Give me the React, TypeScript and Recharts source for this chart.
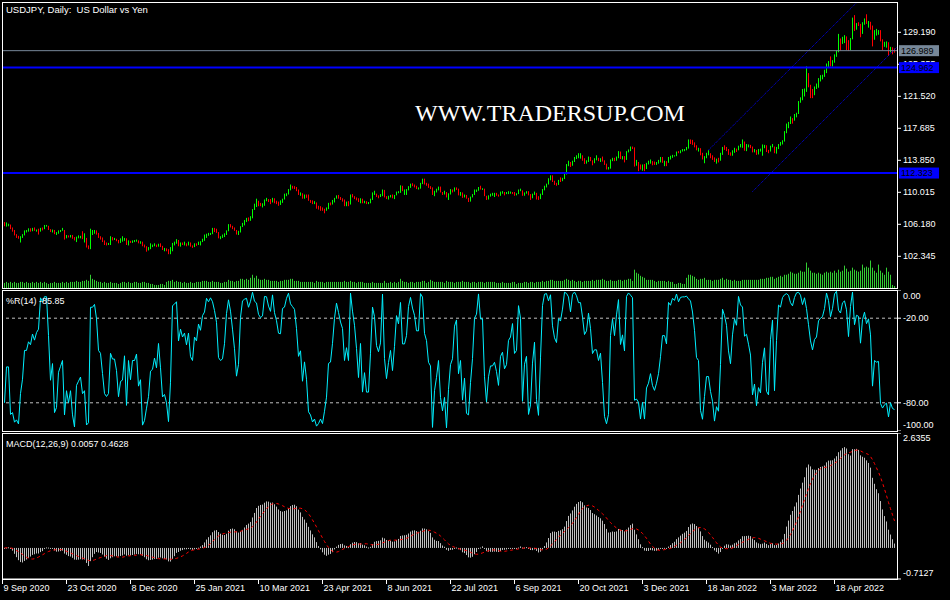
import { ComposedChart, Bar, Line, XAxis, YAxis, ReferenceLine } from "recharts";

// USDJPY daily, 9 Sep 2020 .. 27 May 2022 (446 bars). Open = previous close.
const firstOpen = 106.2;

const closes = [
  106.05, 106.15, 106.15,
  105.7, 105.45, 104.95, 104.7, 104.55,
  104.65, 104.9, 105.4, 105.4, 105.55,
  105.5, 105.65, 105.45, 105.5, 105.3,
  105.7, 105.65, 106.0, 106.0, 105.6,
  105.3, 105.5, 105.1, 105.1, 105.4,
  105.45, 105.5, 104.55, 104.85, 104.7,
  104.85, 104.55, 104.3, 104.6, 104.65,
  104.7, 104.5, 104.5, 103.5, 103.35,
  105.35, 105.35, 105.4, 105.15, 104.6,
  104.55, 104.2, 103.85, 103.8, 103.85,
  104.55, 104.45, 104.45, 104.25, 104.1,
  104.3, 104.3, 104.45, 103.85, 104.2,
  104.05, 104.2, 104.2, 104.25, 104.0,
  104.05, 103.6, 103.5, 103.2, 103.35,
  103.6, 103.6, 103.65, 103.55,
  103.8, 103.55, 103.25, 103.25,
  103.15, 102.7, 103.05, 103.8, 103.95,
  104.25, 103.75, 103.9, 103.8, 103.85,
  103.7, 103.85, 103.55, 103.5, 103.8,
  103.75, 104.05, 104.1, 104.25, 104.7,
  104.95, 105.0, 105.05, 105.55, 105.4,
  105.2, 104.6, 104.6, 104.7, 104.95,
  105.4, 106.05, 105.9, 105.7, 105.45,
  105.1, 105.25, 105.85, 106.2, 106.55,
  106.8, 106.7, 106.95, 107.95, 108.35,
  108.85, 108.5, 108.4, 108.45, 109.05,
  109.15, 108.95, 108.85, 109.25, 108.9,
  108.75, 108.6, 108.9, 109.2, 109.65,
  109.8, 110.35, 110.7, 110.65, 110.6,
  110.25, 109.75, 109.85, 109.3, 109.65,
  109.4, 109.05, 109.0, 108.75, 108.8,
  108.15, 108.1, 108.05, 107.95, 107.9,
  108.1, 108.65, 108.6, 108.9, 109.3,
  109.45, 109.35, 109.2, 109.1, 108.6,
  108.8, 108.6, 109.7, 109.5, 109.35,
  109.2, 108.9, 109.25, 108.75, 108.95,
  108.75, 108.75, 109.15, 109.8, 109.85,
  109.55, 109.5, 109.6, 110.3, 109.5,
  109.25, 109.45, 109.6, 109.35, 109.65,
  110.05, 110.05, 110.7, 110.2, 110.2,
  110.3, 110.65, 110.95, 110.85, 110.75,
  110.55, 110.55, 111.1, 111.55, 111.05,
  110.95, 110.65, 110.6, 109.75, 110.15,
  110.35, 110.6, 110.05, 109.85, 110.05,
  109.45, 109.85, 110.3, 110.15, 110.55,
  110.4, 109.75, 109.9, 109.45, 109.7,
  109.3, 109.05, 109.45, 109.75, 110.25,
  110.3, 110.6, 110.4, 110.4, 109.6,
  109.25, 109.6, 109.75, 109.75, 109.8,
  109.7, 109.65, 110.0, 110.05, 109.85,
  109.9, 110.0, 110.0, 109.9, 109.7,
  109.85, 110.25, 110.25, 109.7, 109.95,
  110.05, 109.7, 109.35, 109.75, 109.95,
  109.4, 109.25, 109.8, 110.3, 110.75,
  111.0, 111.5, 111.95, 111.3, 111.05,
  110.95, 111.45, 111.4, 111.65, 112.2,
  113.3, 113.6, 113.25, 113.7, 114.2,
  114.3, 114.35, 114.35, 113.95, 113.5,
  113.7, 114.15, 113.85, 113.55, 114.0,
  114.0, 113.95, 114.05, 113.75, 113.4,
  112.85, 112.95, 113.9, 114.1, 113.9,
  114.15, 114.8, 114.1, 114.25, 114.0,
  114.85, 115.1, 115.4, 115.35, 113.35,
  113.45, 113.15, 112.8, 113.15, 112.8,
  113.45, 113.55, 113.75, 113.5, 113.4,
  113.55, 113.75, 114.05, 113.7, 113.7,
  113.6, 114.1, 114.2, 114.4, 114.4,
  114.85, 114.8, 114.95, 115.1, 115.1,
  115.35, 116.15, 116.1, 115.85, 115.55,
  115.2, 115.25, 114.6, 114.15, 114.2,
  114.6, 114.6, 114.3, 114.1, 113.7,
  113.95, 113.85, 114.65, 115.35, 115.25,
  115.1, 114.7, 114.5, 114.95, 115.2,
  115.1, 115.55, 115.55, 116.0, 115.45,
  115.55, 115.6, 115.45, 114.9, 115.05,
  114.75, 115.0, 115.0, 115.35, 115.55,
  114.95, 114.9, 115.5, 115.5, 114.8,
  115.3, 115.65, 115.85, 116.15, 117.25,
  118.15, 118.3, 118.7, 118.6, 119.15,
  119.45, 120.85, 121.15, 121.6, 122.05,
  123.85, 122.8, 121.85, 121.7, 122.5,
  122.8, 123.6, 123.8, 123.95, 124.35,
  125.35, 125.4, 125.35, 125.65, 126.4,
  126.95, 127.9, 127.8, 128.4, 128.5,
  128.2, 127.2, 128.4, 130.85, 129.7,
  130.15, 130.1, 129.1, 130.2, 130.55,
  130.3, 130.45, 129.95, 128.35, 129.15,
  129.15, 129.4, 128.25, 127.75, 127.85,
  127.9, 126.85, 127.35, 127.15, 126.989,
];

const highs = [
  106.45, 106.4, 106.25,
  106.15, 105.8, 105.5, 105.0, 104.8,
  104.75, 105.0, 105.45, 105.5, 105.7,
  105.7, 105.75, 105.8, 105.55, 105.65,
  105.75, 105.8, 106.1, 106.1, 106.0,
  105.6, 105.55, 105.5, 105.25, 105.45,
  105.5, 105.75, 105.5, 104.9, 104.85,
  104.9, 104.9, 104.65, 104.7, 104.85,
  104.8, 105.35, 105.1, 104.55, 103.65,
  105.65, 105.5, 105.5, 105.45, 105.15,
  104.75, 104.6, 104.25, 104.0, 103.95,
  104.75, 104.65, 104.55, 104.45, 104.3,
  104.5, 104.75, 104.55, 104.5, 104.25,
  104.2, 104.25, 104.3, 104.35, 104.25,
  104.15, 104.1, 103.75, 103.55, 103.45,
  103.9, 103.75, 103.9, 103.75,
  103.85, 103.9, 103.6, 103.35,
  103.3, 103.2, 103.45, 103.95, 104.1,
  104.4, 104.3, 104.0, 104.0, 104.1,
  103.9, 104.1, 104.0, 103.65, 103.9,
  103.9, 104.1, 104.15, 104.45, 104.95,
  105.05, 105.15, 105.15, 105.75, 105.75,
  105.65, 105.25, 104.75, 104.95, 105.1,
  105.45, 106.2, 106.2, 106.0, 105.8,
  105.5, 105.4, 105.95, 106.35, 106.7,
  106.95, 107.0, 107.15, 108.0, 108.65,
  109.25, 109.0, 108.75, 108.7, 109.15,
  109.35, 109.2, 109.2, 109.35, 109.3,
  109.0, 108.9, 109.05, 109.25, 109.85,
  109.9, 110.4, 110.95, 110.8, 110.75,
  110.65, 110.35, 110.0, 109.9, 109.75,
  109.75, 109.75, 109.1, 109.05, 108.95,
  108.8, 108.4, 108.35, 108.2, 108.05,
  108.2, 108.75, 108.8, 109.1, 109.35,
  109.65, 109.7, 109.45, 109.3, 109.15,
  108.9, 108.95, 109.75, 109.8, 109.55,
  109.4, 109.3, 109.3, 109.25, 109.0,
  108.95, 108.85, 109.25, 110.0, 110.2,
  109.85, 109.65, 109.8, 110.35, 110.3,
  109.55, 109.6, 109.7, 109.75, 109.7,
  110.1, 110.15, 110.85, 110.8, 110.35,
  110.4, 110.75, 111.05, 111.1, 110.95,
  110.8, 110.6, 111.15, 111.65, 111.65,
  111.15, 111.05, 110.75, 110.6, 110.2,
  110.45, 110.7, 110.7, 110.05, 110.2,
  110.05, 109.9, 110.4, 110.35, 110.6,
  110.6, 110.45, 110.05, 110.0, 109.75,
  109.7, 109.35, 109.5, 109.8, 110.35,
  110.35, 110.65, 110.8, 110.5, 110.45,
  109.6, 109.65, 109.85, 109.95, 109.95,
  109.95, 109.75, 110.1, 110.15, 110.05,
  110.05, 110.15, 110.1, 110.05, 110.05,
  109.9, 110.35, 110.45, 110.25, 110.0,
  110.15, 110.15, 109.8, 109.85, 110.1,
  109.95, 109.55, 109.85, 110.4, 110.8,
  111.05, 111.7, 112.05, 112.05, 111.4,
  111.15, 111.5, 111.8, 111.75, 112.25,
  113.4, 113.8, 113.65, 113.8, 114.25,
  114.45, 114.7, 114.7, 114.45, 114.1,
  113.85, 114.3, 114.25, 113.85, 114.1,
  114.45, 114.15, 114.1, 114.3, 113.85,
  113.45, 113.05, 113.95, 114.15, 114.15,
  114.3, 114.95, 114.9, 114.35, 114.35,
  114.95, 115.15, 115.5, 115.5, 115.4,
  113.9, 113.65, 113.35, 113.35, 113.4,
  113.55, 113.8, 113.95, 113.75, 113.7,
  113.65, 113.9, 114.25, 114.25, 113.8,
  113.75, 114.25, 114.4, 114.5, 114.45,
  114.9, 114.95, 115.05, 115.2, 115.2,
  115.45, 116.35, 116.35, 116.3, 116.0,
  115.65, 115.35, 115.3, 114.75, 114.35,
  114.75, 115.05, 114.7, 114.45, 114.2,
  114.05, 114.15, 114.75, 115.45, 115.65,
  115.45, 115.2, 114.8, 115.05, 115.35,
  115.25, 115.6, 115.8, 116.35, 116.1,
  115.8, 115.75, 115.7, 115.5, 115.2,
  115.1, 115.2, 115.25, 115.75, 115.7,
  115.65, 115.1, 115.6, 115.8, 115.5,
  115.45, 115.8, 116.05, 116.25, 117.35,
  118.25, 118.45, 119.1, 118.9, 119.4,
  119.55, 120.95, 121.4, 122.4, 122.45,
  125.1, 124.3, 122.9, 122.4, 122.7,
  123.05, 123.7, 124.05, 124.1, 124.7,
  125.45, 125.75, 126.3, 125.85, 126.55,
  127.0, 129.0, 128.45, 128.65, 128.85,
  128.7, 128.25, 128.5, 130.95, 131.25,
  130.3, 130.4, 130.2, 130.4, 130.85,
  131.35, 130.55, 130.4, 130.0, 129.45,
  129.6, 129.45, 129.45, 128.35, 128.05,
  128.1, 128.0, 127.45, 127.4, 127.25,
];

const lows = [
  105.95, 105.9, 105.95,
  105.6, 105.3, 104.85, 104.55, 104.45,
  104.0, 104.55, 104.85, 105.2, 105.3,
  105.3, 105.35, 105.4, 105.3, 104.95,
  105.3, 105.45, 105.6, 105.9, 105.5,
  105.25, 105.2, 105.0, 104.9, 105.05,
  105.25, 105.4, 104.35, 104.5, 104.6,
  104.6, 104.45, 104.25, 104.05, 104.5,
  104.5, 104.4, 104.0, 103.4, 103.2,
  103.2, 104.9, 105.05, 104.95, 104.55,
  104.35, 104.05, 103.7, 103.65, 103.7,
  103.7, 104.25, 104.3, 104.15, 103.9,
  103.95, 104.1, 104.2, 103.7, 103.65,
  103.95, 103.95, 104.05, 104.1, 103.9,
  103.85, 103.55, 103.4, 102.9, 103.05,
  103.2, 103.45, 103.55, 103.45,
  103.5, 103.45, 103.1, 102.95,
  102.95, 102.6, 102.6, 102.95, 103.65,
  103.85, 103.55, 103.5, 103.7, 103.65,
  103.55, 103.65, 103.5, 103.35, 103.45,
  103.6, 103.7, 103.65, 104.05, 104.2,
  104.55, 104.8, 104.9, 105.0, 105.25,
  105.15, 104.5, 104.4, 104.55, 104.65,
  104.9, 105.35, 105.8, 105.6, 105.4,
  104.95, 104.9, 105.2, 105.85, 106.05,
  106.45, 106.55, 106.6, 106.9, 107.9,
  108.25, 108.35, 108.35, 108.2, 108.4,
  108.95, 108.85, 108.6, 108.8, 108.7,
  108.6, 108.4, 108.5, 108.75, 109.15,
  109.55, 109.75, 110.25, 110.45, 110.4,
  110.15, 109.7, 109.6, 109.25, 109.25,
  109.35, 109.0, 108.75, 108.6, 108.6,
  108.05, 107.95, 107.8, 107.8, 107.5,
  107.8, 108.0, 108.45, 108.55, 108.8,
  109.25, 109.25, 109.1, 108.9, 108.35,
  108.35, 108.35, 108.55, 109.4, 109.2,
  109.05, 108.85, 108.7, 108.7, 108.7,
  108.6, 108.6, 108.7, 109.1, 109.7,
  109.45, 109.3, 109.45, 109.55, 109.4,
  109.2, 109.15, 109.4, 109.3, 109.2,
  109.65, 109.9, 109.95, 110.15, 109.7,
  109.7, 110.25, 110.55, 110.75, 110.6,
  110.4, 110.35, 110.45, 111.0, 110.95,
  110.8, 110.55, 110.4, 109.7, 109.55,
  110.0, 110.25, 110.0, 109.7, 109.75,
  109.4, 109.1, 109.75, 110.0, 110.1,
  110.3, 109.65, 109.6, 109.35, 109.4,
  109.25, 108.85, 108.9, 109.4, 109.7,
  110.05, 110.2, 110.35, 110.3, 109.55,
  109.1, 109.15, 109.5, 109.6, 109.45,
  109.6, 109.5, 109.6, 109.85, 109.65,
  109.8, 109.8, 109.85, 109.8, 109.6,
  109.65, 109.8, 110.15, 109.6, 109.6,
  109.85, 109.65, 109.1, 109.3, 109.7,
  109.15, 109.1, 109.2, 109.7, 110.25,
  110.6, 110.95, 111.45, 111.25, 110.9,
  110.8, 110.9, 111.25, 111.35, 111.6,
  112.15, 113.15, 113.05, 113.2, 113.65,
  114.0, 114.1, 114.05, 113.8, 113.4,
  113.45, 113.65, 113.75, 113.25, 113.5,
  113.85, 113.75, 113.65, 113.7, 113.3,
  112.75, 112.75, 112.85, 113.75, 113.75,
  113.8, 114.1, 114.0, 113.95, 113.6,
  113.9, 114.8, 114.95, 115.2, 113.1,
  113.2, 112.55, 112.75, 112.6, 112.55,
  112.8, 113.35, 113.45, 113.25, 113.3,
  113.3, 113.45, 113.6, 113.55, 113.15,
  113.15, 113.55, 113.95, 114.15, 114.3,
  114.35, 114.7, 114.7, 114.9, 114.95,
  115.05, 115.25, 115.8, 115.7, 115.4,
  115.05, 114.9, 114.45, 113.95, 113.5,
  114.1, 114.45, 114.1, 113.9, 113.65,
  113.45, 113.6, 113.8, 114.5, 115.1,
  114.95, 114.5, 114.4, 114.4, 114.75,
  114.85, 115.05, 115.4, 115.35, 115.0,
  114.95, 115.4, 115.3, 114.8, 114.8,
  114.5, 114.55, 114.9, 114.4, 115.3,
  114.85, 114.7, 114.9, 115.4, 114.7,
  114.65, 115.2, 115.6, 115.75, 116.1,
  117.1, 117.7, 118.2, 118.25, 118.6,
  119.0, 119.4, 120.75, 121.05, 121.5,
  122.1, 122.6, 121.3, 121.3, 121.65,
  122.4, 122.55, 123.3, 123.55, 123.85,
  124.3, 124.95, 125.1, 125.1, 125.55,
  126.25, 126.8, 127.0, 127.8, 127.9,
  127.05, 126.95, 127.05, 128.35, 129.35,
  129.5, 129.95, 128.6, 129.0, 130.1,
  130.2, 129.75, 129.5, 127.5, 128.3,
  128.8, 128.9, 128.1, 127.05, 127.45,
  127.35, 126.35, 126.8, 126.55, 126.75,
];

// tick volume (thousands)
const volumes = [
  5, 6, 5,
  6, 5, 6, 5, 5, 6, 6, 5, 6, 5, 5, 6, 5, 6, 5, 6, 5, 6, 5, 4,
  5, 5, 6, 5, 5, 5, 6, 5, 6, 5, 6, 6, 6, 7, 6, 6, 7, 7, 8, 7,
  13, 9, 8, 7, 6, 6, 5, 6, 5, 5, 6, 5, 5, 5, 4, 5, 6, 6, 5, 6,
  5, 5, 6, 6, 5, 5, 6, 6, 5, 5, 4, 4, 3, 3, 3, 4, 4, 3,
  6, 7, 7, 8, 6, 7, 6, 6, 5, 6, 5, 5, 6, 5, 5, 6, 6, 6, 7, 7,
  7, 6, 6, 7, 6, 6, 6, 5, 5, 6, 6, 8, 7, 7, 6, 7, 7, 9, 9, 8,
  9, 8, 10, 13, 10, 12, 9, 8, 8, 9, 8, 8, 7, 7, 7, 7, 6, 7, 7, 8,
  8, 8, 9, 9, 7, 7, 7, 6, 6, 6, 6, 6, 6, 6, 5, 7, 6, 6, 6, 5,
  6, 6, 6, 6, 6, 6, 6, 6, 6, 7, 6, 6, 7, 6, 6, 5, 6, 6, 6, 5,
  5, 5, 5, 6, 5, 5, 5, 5, 5, 7, 5, 5, 6, 5, 6, 5, 6, 9, 7, 6,
  6, 5, 6, 6, 5, 6, 6, 6, 7, 7, 5, 6, 8, 7, 6, 6, 6, 6, 6, 5,
  7, 6, 6, 6, 5, 6, 6, 6, 7, 6, 6, 6, 5, 6, 6, 5, 6, 6, 6, 5,
  6, 6, 6, 6, 6, 5, 5, 5, 6, 5, 5, 5, 5, 6, 6, 4, 5, 5, 5, 6,
  6, 5, 6, 6, 5, 6, 6, 6, 7, 6, 7, 7, 8, 8, 7, 7, 7, 7, 7, 8,
  9, 8, 7, 8, 7, 6, 7, 7, 6, 7, 7, 7, 7, 8, 7, 8, 8, 8, 9, 8,
  7, 7, 8, 7, 7, 7, 8, 8, 7, 8, 8, 9, 9, 7, 18, 15, 14, 12, 11, 10,
  8, 8, 8, 8, 7, 6, 7, 7, 7, 7, 6, 7, 6, 6, 4, 4, 5, 5, 4, 4,
  10, 13, 13, 12, 11, 9, 8, 9, 9, 10, 8, 8, 8, 7, 8, 8, 8, 9, 10, 8,
  9, 8, 8, 7, 8, 7, 7, 7, 8, 8, 8, 8, 8, 8, 8, 8, 8, 9, 9, 9,
  10, 10, 11, 11, 9, 10, 11, 12, 11, 13, 13, 14, 16, 15, 14,
  14, 15, 17, 16, 16, 25, 20, 17, 15, 15, 14, 15, 14, 13, 15,
  16, 15, 16, 15, 17, 15, 18, 16, 17, 22, 19, 16, 17, 20, 18,
  17, 16, 17, 23, 20, 21, 20, 27, 20, 17, 15, 23, 17, 15, 13,
  20, 16, 13, 3, 2,
];

const bidPrice = closes[closes.length - 1];
const levels = [124.962, 112.323];
const priceTicks = [102.345, 106.18, 110.015, 113.85, 117.685, 121.52, 125.355, 129.19];
const wprTicks = [0, -20, -80, -100];
const wprLevels = [-20, -80];
const macdTicks = [2.6355, -0.7127];
const dateTicks = [0, 32, 64, 96, 128, 160, 192, 224, 256, 288, 320, 352, 384, 416];
const dateLabels = [
  "9 Sep 2020", "23 Oct 2020", "8 Dec 2020", "25 Jan 2021", "10 Mar 2021", "23 Apr 2021",
  "8 Jun 2021", "22 Jul 2021", "6 Sep 2021", "20 Oct 2021", "3 Dec 2021", "18 Jan 2022",
  "3 Mar 2022", "18 Apr 2022",
];
// channel drawn on the chart (bar index, price)
const channelUpper = [{ x: 352, y: 115.08 }, { x: 430, y: 133.69 }];
const channelLower = [{ x: 374, y: 110.1 }, { x: 447, y: 127.6 }];

// ---- derived rows + indicators ----
const rows = closes.map((c, i) => {
  const o = i === 0 ? firstOpen : closes[i - 1];
  return { i, o, c, h: Math.max(highs[i], o, c), l: Math.min(lows[i], o, c), v: volumes[i] };
});

function ema(n: number) {
  const k = 2 / (n + 1);
  let e = closes[0];
  return closes.map((c) => (e = e + k * (c - e)));
}
const ema12 = ema(12);
const ema26 = ema(26);
const macdLine = closes.map((_, i) => ema12[i] - ema26[i]);
rows.forEach((r: any, i) => {
  const from = Math.max(0, i - 8);
  const win = macdLine.slice(from, i + 1);
  r.macd = macdLine[i];
  r.signal = win.reduce((a, b) => a + b, 0) / win.length;
  const s = Math.max(0, i - 13);
  const hh = Math.max(...rows.slice(s, i + 1).map((d) => d.h));
  const ll = Math.min(...rows.slice(s, i + 1).map((d) => d.l));
  r.wpr = hh === ll ? -50 : (-100 * (hh - r.c)) / (hh - ll);
});

const W = 950;
const X_DOMAIN = [-0.75, 446.25];
const FONT = "'Liberation Sans', Arial, sans-serif";
const UP = "#00ff00";
const DOWN = "#ff0000";

// 1px stick centred on the bar slot
function stick(props: any, fill: string) {
  const { x, y, width, height } = props;
  if (x == null || y == null || height == null) return <g />;
  const cx = Math.floor(x + (width || 0) / 2);
  const top = height < 0 ? y + height : y;
  const h = Math.max(Math.abs(height), 1);
  return <rect x={cx} y={top} width={1} height={h} fill={fill} />;
}
const Candle = (p: any) => stick(p, p.payload && p.payload.c >= p.payload.o ? UP : DOWN);
const VolStick = (p: any) => stick(p, "#32cd32");
const MacdStick = (p: any) => stick(p, "#c0c0c0");

const AxisTick = (props: any) => {
  const { x, y, payload, digits, shift } = props;
  const v = payload.value;
  const off = shift ? shift(v) : 0;
  return (
    <g>
      <line x1={x} x2={x + 4} y1={y} y2={y} stroke="#fff" />
      <text x={x + 6} y={y + off} dy="0.35em" fill="#fff" fontSize={9} fontFamily={FONT}>
        {v.toFixed(digits)}
      </text>
    </g>
  );
};

const DateTick = (props: any) => {
  const { x, y, payload } = props;
  const k = dateTicks.indexOf(payload.value);
  const tx = x - 2;
  return (
    <g>
      <line x1={tx} x2={tx} y1={y} y2={y + 5} stroke="#fff" />
      <text x={tx + 1} y={y + 12} fill="#fff" fontSize={9} fontFamily={FONT}>
        {dateLabels[k]}
      </text>
    </g>
  );
};

const PriceTag = (props: any) => {
  const { viewBox, bg, text } = props;
  if (!viewBox) return null;
  const right = viewBox.x + viewBox.width;
  return (
    <g>
      <rect x={right + 2} y={viewBox.y - 5.5} width={40} height={11} fill={bg} />
      <text x={right + 4} y={viewBox.y} dy="0.35em" fill="#000" fontSize={9} fontFamily={FONT}>
        {text}
      </text>
    </g>
  );
};

const frame = (top: number, height: number): React.CSSProperties => ({
  position: "absolute",
  left: 2,
  top,
  width: 896,
  height,
  boxSizing: "border-box",
  border: "1px solid #fff",
  pointerEvents: "none",
});

const PRICE_DOMAIN = [98.546, 132.702];
const priceMargin = { top: 3, right: 0, bottom: 1, left: 3 };
// charts without a visible y axis keep the same 53px gutter through the margin
const bareMargin = { top: 3, right: 53, bottom: 1, left: 3 };

export default function App() {
  return (
    <div style={{ position: "fixed", left: 0, top: 0, width: W, height: 600, background: "#000", overflow: "hidden" }}>
      {/* volumes */}
      <div style={{ position: "absolute", left: 0, top: 0 }}>
        <ComposedChart width={W} height={289} data={rows} margin={bareMargin}>
          <XAxis dataKey="i" type="number" domain={X_DOMAIN} hide allowDataOverflow />
          <YAxis domain={[0, 280]} hide allowDataOverflow />
          <Bar dataKey="v" barSize={1} shape={VolStick} isAnimationActive={false} />
        </ComposedChart>
      </div>
      {/* price */}
      <div style={{ position: "absolute", left: 0, top: 0 }}>
        <ComposedChart width={W} height={289} data={rows} margin={priceMargin}>
          <XAxis dataKey="i" type="number" domain={X_DOMAIN} hide allowDataOverflow />
          <YAxis
            orientation="right"
            width={53}
            domain={PRICE_DOMAIN}
            ticks={priceTicks}
            interval={0}
            axisLine={false}
            tickLine={false}
            tickSize={0}
            tickMargin={0}
            tick={<AxisTick digits={3} />}
            allowDataOverflow
          />
          <ReferenceLine segment={channelUpper} stroke="#0000ff" strokeDasharray="1 1" ifOverflow="hidden" />
          <ReferenceLine segment={channelLower} stroke="#0000ff" strokeDasharray="1 1" ifOverflow="hidden" />
          <Bar dataKey={(d: any) => [d.l, d.h]} barSize={1} shape={Candle} isAnimationActive={false} />
        </ComposedChart>
      </div>
      {/* horizontal levels + price tags, above the axis labels */}
      <div style={{ position: "absolute", left: 0, top: 0 }}>
        <ComposedChart width={W} height={289} data={rows} margin={bareMargin}>
          <XAxis dataKey="i" type="number" domain={X_DOMAIN} hide allowDataOverflow />
          <YAxis domain={PRICE_DOMAIN} hide allowDataOverflow />
          <ReferenceLine y={bidPrice} stroke="#778899" label={<PriceTag bg="#778899" text={bidPrice.toFixed(3)} />} />
          {levels.map((lv) => (
            <ReferenceLine key={lv} y={lv} stroke="#0000ff" strokeWidth={2} label={<PriceTag bg="#0000ff" text={lv.toFixed(3)} />} />
          ))}
        </ComposedChart>
      </div>
      {/* Williams %R */}
      <div style={{ position: "absolute", left: 0, top: 290 }}>
        <ComposedChart width={W} height={141} data={rows} margin={{ top: 0, right: 0, bottom: 0, left: 3 }}>
          <XAxis dataKey="i" type="number" domain={X_DOMAIN} hide allowDataOverflow />
          <YAxis
            orientation="right"
            width={53}
            domain={[-100, 0]}
            ticks={wprTicks}
            interval={0}
            axisLine={false}
            tickLine={false}
            tickSize={0}
            tickMargin={0}
            tick={<AxisTick digits={2} shift={(v: number) => (v === 0 ? 5.5 : v === -100 ? -6.5 : 0)} />}
            allowDataOverflow
          />
          {wprLevels.map((lv) => (
            <ReferenceLine key={lv} y={lv} stroke="#c0c0c0" strokeDasharray="3 3" />
          ))}
          <Line dataKey="wpr" stroke="#00f0ff" strokeWidth={1} dot={false} isAnimationActive={false} />
        </ComposedChart>
      </div>
      {/* MACD */}
      <div style={{ position: "absolute", left: 0, top: 433 }}>
        <ComposedChart width={W} height={167} data={rows} margin={{ top: 0, right: 0, bottom: 0, left: 3 }}>
          <XAxis
            dataKey="i"
            type="number"
            domain={X_DOMAIN}
            ticks={dateTicks}
            interval={0}
            height={21}
            tickLine={false}
            tickSize={0}
            tickMargin={0}
            axisLine={{ stroke: "#fff" }}
            tick={<DateTick />}
            allowDataOverflow
          />
          <YAxis
            orientation="right"
            width={53}
            domain={[-0.7127, 2.6355]}
            ticks={macdTicks}
            interval={0}
            axisLine={false}
            tickLine={false}
            tickSize={0}
            tickMargin={0}
            tick={<AxisTick digits={4} shift={(v: number) => (v > 0 ? 5.3 : -6)} />}
            allowDataOverflow
          />
          <Bar dataKey="macd" barSize={1} shape={MacdStick} isAnimationActive={false} />
          <Line dataKey="signal" stroke="#ff0000" strokeDasharray="3 3" strokeWidth={1} dot={false} isAnimationActive={false} />
        </ComposedChart>
      </div>

      <div style={frame(2, 287)} />
      <div style={frame(290, 142)} />
      <div style={frame(433, 147)} />

      <svg width={W} height={600} style={{ position: "absolute", left: 0, top: 0, pointerEvents: "none" }}>
        <text x={6} y={13} fill="#fff" fontSize={9.5} fontFamily={FONT} style={{ whiteSpace: "pre" }}>
          USDJPY, Daily:  US Dollar vs Yen
        </text>
        <text x={415} y={121} fill="#fff" fontSize={24} fontFamily="'Liberation Serif', 'Times New Roman', serif">
          WWW.TRADERSUP.COM
        </text>
        <text x={6} y={303.5} fill="#fff" fontSize={9} fontFamily={FONT}>
          %R(14) -85.85
        </text>
        <text x={6} y={447} fill="#fff" fontSize={9} fontFamily={FONT}>
          MACD(12,26,9) 0.0057 0.4628
        </text>
      </svg>
    </div>
  );
}
